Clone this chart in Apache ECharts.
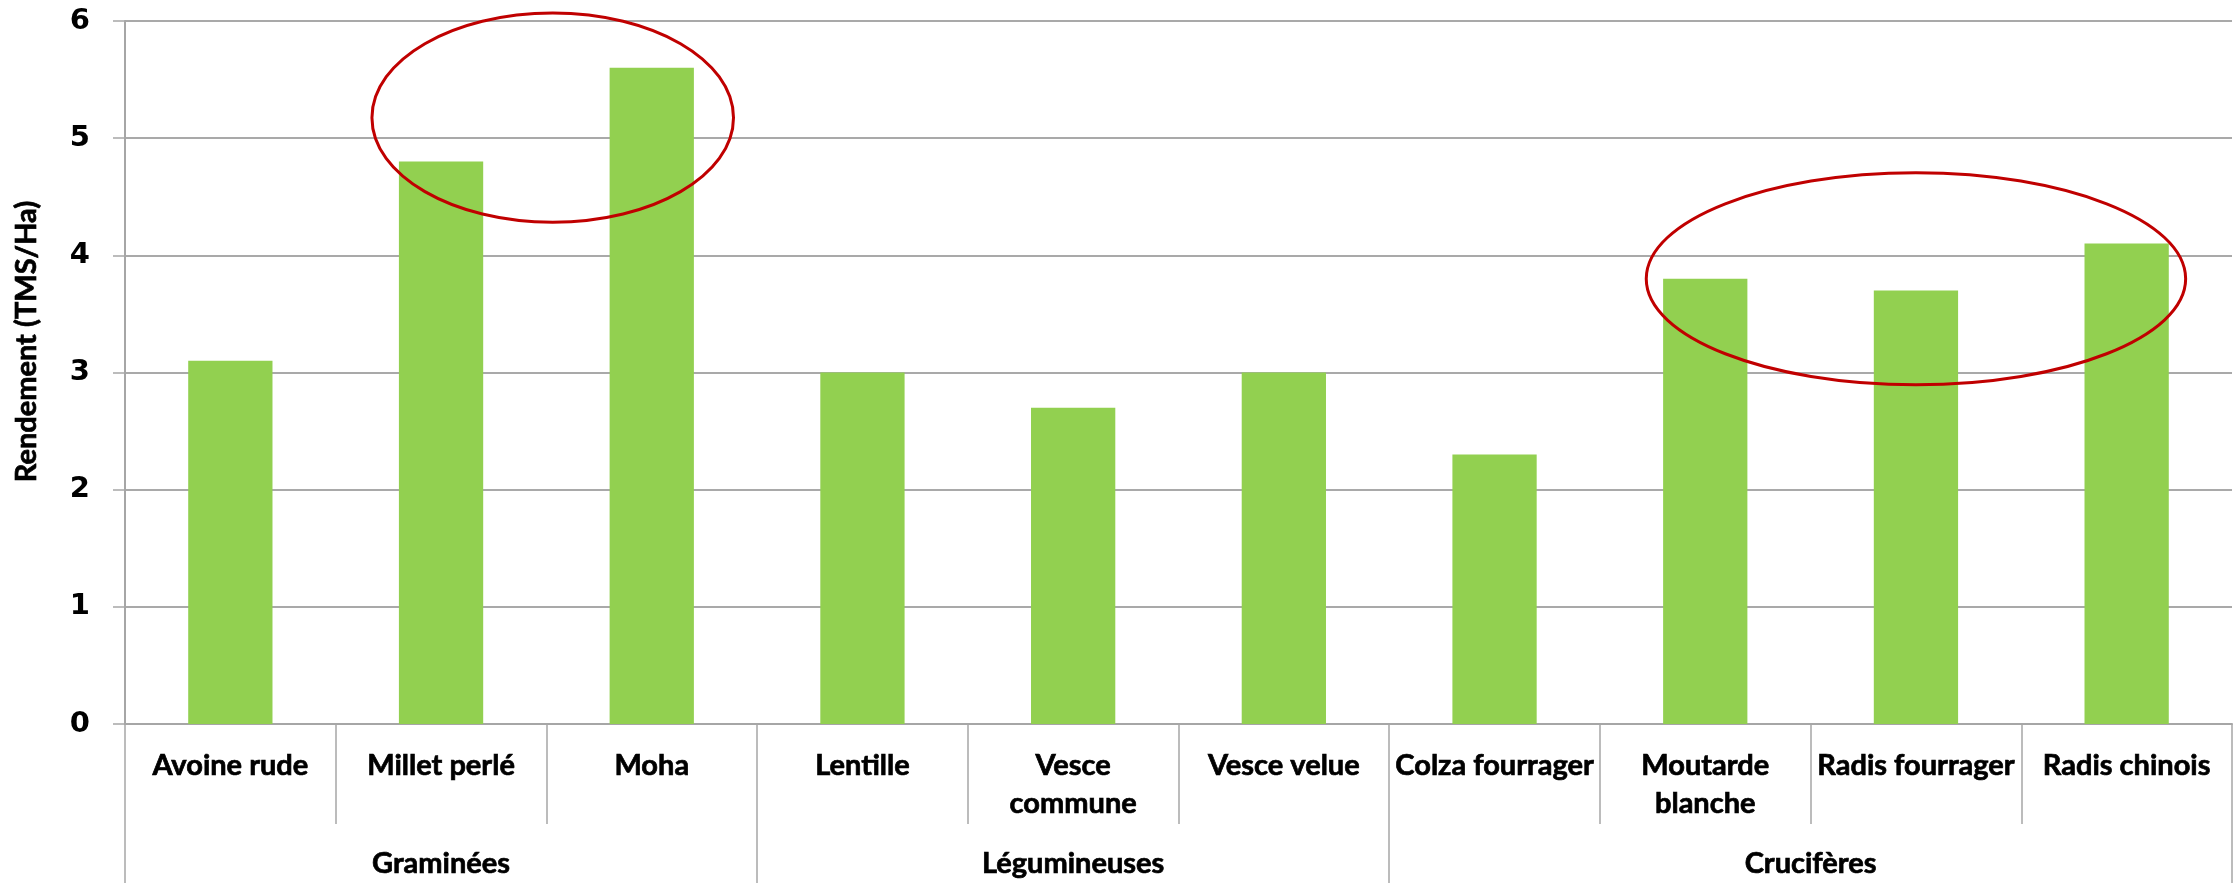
<!DOCTYPE html>
<html>
<head>
<meta charset="utf-8">
<title>Rendement par espèce</title>
<script src="https://cdn.jsdelivr.net/npm/echarts@6/dist/echarts.min.js"></script>
<style>
  html, body { margin: 0; padding: 0; background: #ffffff; }
  #chart { width: 2234px; height: 883px; }
</style>
</head>
<body>
<div id="chart"></div>
<script>
// Species (one bar each), in display order
const categories = ['Avoine rude', 'Millet perlé', 'Moha', 'Lentille', 'Vesce commune',
  'Vesce velue', 'Colza fourrager', 'Moutarde blanche', 'Radis fourrager', 'Radis chinois'];
// Text shown under each bar (two-line where the cell wraps)
const tickLabels = ['Avoine rude', 'Millet perlé', 'Moha', 'Lentille', 'Vesce\ncommune',
  'Vesce velue', 'Colza fourrager', 'Moutarde\nblanche', 'Radis fourrager', 'Radis chinois'];
// Yield in tonnes of dry matter per hectare
const rendement = [3.1, 4.8, 5.6, 3.0, 2.7, 3.0, 2.3, 3.8, 3.7, 4.1];
// Plant families and how many species each one groups
const familles = ['Graminées', 'Légumineuses', 'Crucifères'];
const especesParFamille = [3, 3, 4];
// Value-axis ticks
const yTicks = [0, 1, 2, 3, 4, 5, 6];

// Highlight rings: centre (band units from the left edge, yield), radii (bands, yield)
const highlightCenters = [[2.03, 5.175], [8.5, 3.8]];
const highlightRadii = [[0.858, 0.893], [1.28, 0.905]];

const labelFont = 'Lato, "Open Sans", sans-serif';
const tickFont = '"DejaVu Sans", Verdana, sans-serif';
const axisGrey = '#a6a6a6';
const gridGrey = '#8c8c8c';

// Shared look of the bold black captions
const captionStyle = {
  color: '#000000',
  fontFamily: labelFont,
  fontWeight: 'bold',
  fontSize: 29,
  textBorderColor: '#000000',
  textBorderWidth: 0.7
};

// Family boundaries and label positions on a 0..N scale
const bounds = [0];
especesParFamille.forEach(n => bounds.push(bounds[bounds.length - 1] + n));
const groupMids = familles.map((_, i) => (bounds[i] + bounds[i + 1]) / 2);
const total = bounds[bounds.length - 1];

const chart = echarts.init(document.getElementById('chart'), null, { renderer: 'canvas' });

const option = {
  animation: false,
  backgroundColor: '#ffffff',
  grid: { left: 125, right: 2, top: 21, bottom: 159, containLabel: false },
  xAxis: [
    {
      type: 'category',
      data: categories,
      position: 'bottom',
      axisLine: { show: true, lineStyle: { color: axisGrey, width: 2 } },
      axisTick: { show: true, interval: 0, length: 100, lineStyle: { color: axisGrey, width: 1.5 } },
      axisLabel: Object.assign({}, captionStyle, {
        interval: 0,
        margin: 23,
        lineHeight: 38,
        formatter: (v, i) => tickLabels[i]
      }),
      splitLine: { show: false }
    },
    {
      type: 'value',
      min: 0,
      max: total,
      position: 'bottom',
      axisLine: { show: false },
      axisTick: {
        show: true,
        customValues: bounds,
        length: 170,
        lineStyle: { color: axisGrey, width: 1.5 }
      },
      axisLabel: Object.assign({}, captionStyle, {
        customValues: groupMids,
        margin: 125,
        formatter: (v) => {
          const k = groupMids.indexOf(v);
          return k >= 0 ? familles[k] : '';
        }
      }),
      splitLine: { show: false }
    }
  ],
  yAxis: {
    type: 'value',
    min: yTicks[0],
    max: yTicks[yTicks.length - 1],
    interval: 1,
    name: 'Rendement (TMS/Ha)',
    nameLocation: 'middle',
    nameRotate: 90,
    nameGap: 84,
    nameTextStyle: Object.assign({}, captionStyle, { padding: [0, 0, 0, 62] }),
    axisLine: { show: true, lineStyle: { color: axisGrey, width: 2 } },
    axisTick: { show: true, length: 12, lineStyle: { color: axisGrey, width: 1.5 } },
    axisLabel: {
      margin: 35,
      color: '#000000',
      fontFamily: tickFont,
      fontWeight: 'bold',
      fontSize: 29
    },
    splitLine: { show: true, lineStyle: { color: gridGrey, width: 1.5 } }
  },
  series: [
    {
      type: 'bar',
      xAxisIndex: 0,
      data: rendement,
      barWidth: '40%',
      itemStyle: { color: '#92d050' }
    }
  ]
};

chart.setOption(option);

// Red highlight rings placed in data space
function drawHighlights() {
  const p0 = chart.convertToPixel({ xAxisIndex: 0 }, 0);
  const p1 = chart.convertToPixel({ xAxisIndex: 0 }, 1);
  const band = p1 - p0;
  const left = p0 - band / 2;
  const unit = chart.convertToPixel({ yAxisIndex: 0 }, 0) - chart.convertToPixel({ yAxisIndex: 0 }, 1);
  const elements = highlightCenters.map((c, i) => ({
    type: 'ellipse',
    silent: true,
    z: 100,
    shape: {
      cx: left + c[0] * band,
      cy: chart.convertToPixel({ yAxisIndex: 0 }, c[1]),
      rx: highlightRadii[i][0] * band,
      ry: highlightRadii[i][1] * unit
    },
    style: { fill: 'none', stroke: '#c00000', lineWidth: 3 }
  }));
  chart.setOption({ graphic: { elements } });
}
drawHighlights();
</script>
</body>
</html>
